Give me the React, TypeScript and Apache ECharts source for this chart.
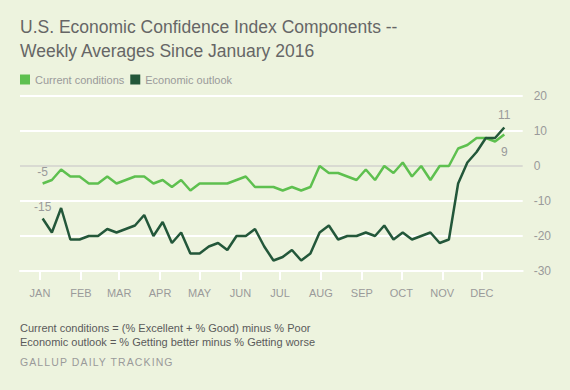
import React, { useEffect, useRef } from "react";
import * as echarts from "echarts";

const weeks = [
  "2016-01-03", "2016-01-10", "2016-01-17", "2016-01-24", "2016-01-31",
  "2016-02-07", "2016-02-14", "2016-02-21", "2016-02-28",
  "2016-03-06", "2016-03-13", "2016-03-20", "2016-03-27",
  "2016-04-03", "2016-04-10", "2016-04-17", "2016-04-24",
  "2016-05-01", "2016-05-08", "2016-05-15", "2016-05-22", "2016-05-29",
  "2016-06-05", "2016-06-12", "2016-06-19", "2016-06-26",
  "2016-07-03", "2016-07-10", "2016-07-17", "2016-07-24", "2016-07-31",
  "2016-08-07", "2016-08-14", "2016-08-21", "2016-08-28",
  "2016-09-04", "2016-09-11", "2016-09-18", "2016-09-25",
  "2016-10-02", "2016-10-09", "2016-10-16", "2016-10-23", "2016-10-30",
  "2016-11-06", "2016-11-13", "2016-11-20", "2016-11-27",
  "2016-12-04", "2016-12-11", "2016-12-18",
];

const currentConditions = [
  -5, -4, -1, -3, -3, -5, -5, -3, -5, -4,
  -3, -3, -5, -4, -6, -4, -7, -5, -5, -5,
  -5, -4, -3, -6, -6, -6, -7, -6, -7, -6,
  0, -2, -2, -3, -4, -1, -4, 0, -2, 1,
  -3, 0, -4, 0, 0, 5, 6, 8, 8, 7,
  9,
];

const economicOutlook = [
  -15, -19, -12, -21, -21, -20, -20, -18, -19, -18,
  -17, -14, -20, -16, -22, -19, -25, -25, -23, -22,
  -24, -20, -20, -18, -23, -27, -26, -24, -27, -25,
  -19, -17, -21, -20, -20, -19, -20, -17, -21, -19,
  -21, -20, -19, -22, -21, -5, 1, 4, 8, 8,
  11,
];

const monthLabels = ["JAN", "FEB", "MAR", "APR", "MAY", "JUN", "JUL", "AUG", "SEP", "OCT", "NOV", "DEC"];
const yTicks = [-30, -20, -10, 0, 10, 20];

const seriesNames = ["Current conditions", "Economic outlook"];
const seriesColors = ["#5ec04f", "#23573a"];

const FONT = "Liberation Sans, Arial, sans-serif";
const GRID_WHITE = "#ffffff";
const ZERO_GRAY = "#d9dad2";

function buildData(values: number[], firstPos: string, lastPos: string, lastDist: number) {
  return values.map((v, i) => {
    const item: any = { value: [weeks[i], v] };
    if (i === 0) {
      item.label = { show: true, position: firstPos, distance: 5 };
    } else if (i === values.length - 1) {
      item.label = { show: true, position: lastPos, distance: lastDist };
    }
    return item;
  });
}

export default function App() {
  const ref = useRef<HTMLDivElement>(null);

  useEffect(() => {
    if (!ref.current) return;
    const chart = echarts.init(ref.current, null, { renderer: "svg" });
    const labelStyle = { color: "#9a9a9a", fontSize: 12, fontFamily: FONT };
    const splitColors = yTicks.map((t) => (t === 0 ? ZERO_GRAY : GRID_WHITE));
    chart.setOption({
      animation: false,
      backgroundColor: "#edf3de",
      textStyle: { fontFamily: FONT },
      title: {
        text: "U.S. Economic Confidence Index Components --\nWeekly Averages Since January 2016",
        left: 20,
        top: 15,
        padding: 0,
        textStyle: {
          fontFamily: FONT,
          fontSize: 17.5,
          fontWeight: "normal",
          color: "#666666",
          lineHeight: 24,
        },
      },
      legend: {
        left: 20,
        top: 74,
        padding: 0,
        itemWidth: 10,
        itemHeight: 10,
        itemGap: 6,
        icon: "rect",
        data: seriesNames,
        textStyle: { fontFamily: FONT, fontSize: 11, color: "#9a9a9a" },
      },
      grid: { left: 20, right: 47.3, top: 96, bottom: 119 },
      xAxis: {
        type: "time",
        min: new Date(2015, 11, 16, 20).getTime(),
        max: new Date(2016, 11, 31, 23).getTime(),
        splitNumber: 12,
        axisLine: { show: true, onZero: false, lineStyle: { color: GRID_WHITE, width: 2 } },
        axisTick: { show: true, length: 9, lineStyle: { color: GRID_WHITE, width: 2 } },
        splitLine: { show: false },
        axisLabel: {
          color: "#9a9a9a",
          fontSize: 11,
          fontFamily: FONT,
          margin: 16,
          formatter: (val: number) => monthLabels[new Date(val).getMonth()],
        },
      },
      yAxis: {
        type: "value",
        position: "right",
        min: yTicks[0],
        max: yTicks[yTicks.length - 1],
        interval: 10,
        axisLine: { show: false },
        axisTick: { show: false },
        splitLine: { show: true, lineStyle: { color: splitColors, width: 2 } },
        axisLabel: { color: "#9a9a9a", fontSize: 12, fontFamily: FONT, margin: 11 },
      },
      series: [
        {
          name: seriesNames[0],
          type: "line",
          symbol: "circle",
          symbolSize: 0.01,
          showSymbol: true,
          color: seriesColors[0],
          lineStyle: { width: 2.5, color: seriesColors[0] },
          label: labelStyle,
          data: buildData(currentConditions, "top", "bottom", 11),
        },
        {
          name: seriesNames[1],
          type: "line",
          symbol: "circle",
          symbolSize: 0.01,
          showSymbol: true,
          color: seriesColors[1],
          lineStyle: { width: 2.5, color: seriesColors[1] },
          label: labelStyle,
          data: buildData(economicOutlook, "top", "top", 6),
        },
      ],
      graphic: [
        {
          type: "text",
          left: 20,
          top: 321,
          style: {
            text: "Current conditions = (% Excellent + % Good) minus % Poor\nEconomic outlook = % Getting better minus % Getting worse",
            fontFamily: FONT,
            fontSize: 11,
            lineHeight: 14,
            fill: "#5a5a5a",
          },
        },
        {
          type: "text",
          left: 20,
          top: 356,
          style: {
            text: "GALLUP DAILY TRACKING",
            fontFamily: FONT,
            fontSize: 10.5,
            fill: "#9a9a9a",
          },
        },
      ],
    });
    const texts = ref.current.querySelectorAll("text");
    texts.forEach((t) => {
      if (t.textContent === "GALLUP DAILY TRACKING") {
        (t as SVGTextElement).style.letterSpacing = "1.1px";
      }
    });
    return () => chart.dispose();
  }, []);

  return (
    <div
      ref={ref}
      style={{ position: "fixed", left: 0, top: 0, width: 570, height: 390 }}
    />
  );
}
